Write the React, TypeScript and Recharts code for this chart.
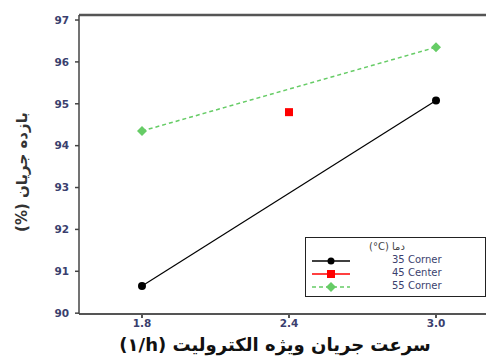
import { LineChart, Line, XAxis, YAxis, ReferenceLine } from 'recharts'

const speeds35 = [1.8, 3.0]
const yields35 = [90.65, 95.08]
const speeds45 = [2.4]
const yields45 = [94.8]
const speeds55 = [1.8, 3.0]
const yields55 = [94.35, 96.35]

const xTicks = [1.8, 2.4, 3.0]
const yTicks = [90, 91, 92, 93, 94, 95, 96, 97]
const legendLabels = ['35 Corner', '45 Center', '55 Corner']

const toRows = (xs: number[], ys: number[]) => xs.map((x, i) => ({ x, y: ys[i] }))

const tickStyle = { fill: '#3b3f6e', fontSize: 10.5, fontWeight: 700, fontFamily: 'Tahoma, "DejaVu Sans", sans-serif' }

const CircleDot = ({ cx, cy }: any) => <circle cx={cx} cy={cy} r={4} fill="#000" />
const SquareDot = ({ cx, cy }: any) => <rect x={cx - 4} y={cy - 4} width={8} height={8} fill="#ff0000" />
const DiamondDot = ({ cx, cy }: any) => (
  <polygon points={`${cx},${cy - 5} ${cx + 5},${cy} ${cx},${cy + 5} ${cx - 5},${cy}`} fill="#66cc66" />
)

const ltr = { unicodeBidi: 'isolate', direction: 'ltr' } as const

const LegendBox = () => (
  <div style={{
    position: 'absolute', left: 305, top: 237, width: 181, height: 60, boxSizing: 'border-box',
    border: '1.5px solid #222', background: '#fff', fontFamily: '"DejaVu Sans", sans-serif', fontSize: 10,
  }}>
    <div style={{ position: 'absolute', left: 63, top: 3, direction: 'rtl', color: '#444' }}>
      دما <span style={ltr}>(°C)</span>
    </div>
    {legendLabels.map((label, i) => {
      const top = 18 + i * 13
      const color = ['#000', '#ff0000', '#66cc66'][i]
      return (
        <div key={label}>
          <svg style={{ position: 'absolute', left: 4, top: top }} width={40} height={10}>
            <line x1={2} y1={5} x2={40} y2={5} stroke={color} strokeWidth={1.5} strokeDasharray={i === 2 ? '4 3' : undefined} />
            {i === 0 && <circle cx={21} cy={5} r={3.5} fill={color} />}
            {i === 1 && <rect x={17} y={1} width={8} height={8} fill={color} />}
            {i === 2 && <polygon points="21,0 26,5 21,10 16,5" fill={color} />}
          </svg>
          <div style={{ position: 'absolute', left: 86, top: top - 2, color: '#3b3f6e' }}>{label}</div>
        </div>
      )
    })}
  </div>
)

export default function App() {
  return (
    <div style={{ position: 'fixed', left: 0, top: 0, width: 486, height: 358, background: '#fff' }}>
      <LineChart width={486} height={358} margin={{ top: 15, right: 0, left: 0, bottom: 0 }}>
        <XAxis
          dataKey="x" type="number" domain={[1.543, 3.204]} ticks={xTicks} allowDataOverflow
          tickFormatter={(v: number) => v.toFixed(1)} tick={tickStyle} height={44}
          stroke="#555" strokeWidth={2} tickSize={4} interval={0}
        />
        <YAxis
          dataKey="y" type="number" domain={[89.98, 97.12]} ticks={yTicks} allowDataOverflow
          tick={tickStyle} width={79} stroke="#444" strokeWidth={1.5} tickSize={4} tickMargin={6} interval={0}
        />
        <ReferenceLine y={97.12} stroke="#555" strokeWidth={2.5} />
        <Line data={toRows(speeds35, yields35)} dataKey="y" stroke="#000" strokeWidth={1.2}
          dot={<CircleDot />} isAnimationActive={false} />
        <Line data={toRows(speeds45, yields45)} dataKey="y" stroke="#ff0000"
          dot={<SquareDot />} isAnimationActive={false} />
        <Line data={toRows(speeds55, yields55)} dataKey="y" stroke="#66cc66" strokeWidth={1.5}
          strokeDasharray="4 3" dot={<DiamondDot />} isAnimationActive={false} />
      </LineChart>
      <svg style={{ position: 'absolute', left: 0, top: 0 }} width={40} height={358}>
        <text
          x={0} y={0} transform="translate(27, 172) rotate(-90)" textAnchor="middle" direction="rtl"
          fontFamily='"DejaVu Sans", serif' fontWeight={700} fontSize={15} fill="#333"
        >
          بازده جریان (%)
        </text>
      </svg>
      <div style={{
        position: 'absolute', left: 275, top: 334, transform: 'translateX(-50%)', whiteSpace: 'nowrap', direction: 'rtl',
        fontFamily: '"DejaVu Sans", serif', fontWeight: 700, fontSize: 18, color: '#111',
      }}>
        سرعت جریان ویژه الکترولیت <span style={ltr}>(۱/h)</span>
      </div>
      <LegendBox />
    </div>
  )
}
